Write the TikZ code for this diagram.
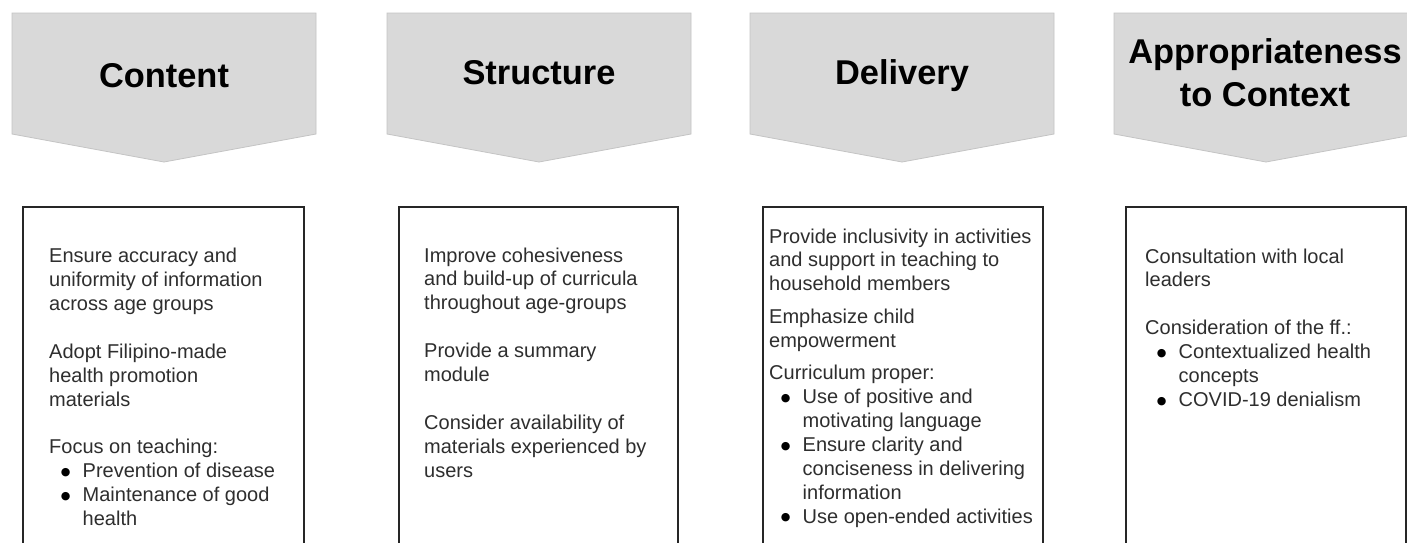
\documentclass[tikz,border=0pt]{standalone}
\usepackage{fontspec}
\setmainfont{Liberation Sans}
\newfontfamily\dotfont{DejaVu Sans}

\definecolor{chevfill}{HTML}{D9D9D9}
\definecolor{chevline}{HTML}{C4C4C4}
\definecolor{bodytext}{HTML}{2E2E2E}

% bullet line: dot centred 16.5pt in, item text 33.5pt in
\newcommand\bulletdot{\makebox[0pt][c]{\raisebox{2.4pt}{\color{black}\fontsize{11}{11}\dotfont ●}}}
\newcommand\bulletline[1]{\makebox[33.5pt][l]{\hspace{16.5pt}\bulletdot}#1}
\newcommand\contline[1]{\hspace*{33.5pt}#1}

\tikzset{
  chevron/.style={fill=chevfill, draw=chevline, line width=0.8pt, line join=miter},
  panel/.style={draw=black!85, line width=1.3pt},
  title/.style={anchor=base, inner sep=0pt, text=black,
    font=\fontsize{34.4}{43}\selectfont\bfseries},
  body/.style={anchor=base west, inner sep=0pt, text=bodytext,
    font=\fontsize{20}{23.9}\selectfont},
}

% chevron pointing down: left x, right x
\newcommand\chev[2]{%
  \path[chevron] (#1,13) -- (#2,13) -- (#2,134) -- ({(#1+#2)/2},162) -- (#1,134) -- cycle;}

\begin{document}
\begin{tikzpicture}[x=1pt, y=-1pt]
  \useasboundingbox (0,0) rectangle (1407,542);
  \clip (0,0) rectangle (1407,542);
  \fill[white] (0,0) rectangle (1407,542);

  % header chevrons
  \chev{12}{316}
  \chev{387}{691}
  \chev{750}{1054}
  \chev{1114}{1418}

  \node[title] (h1) at (164,87) {Content};
  \node[title] (h2) at (539,84) {Structure};
  \node[title] (h3) at (902,84) {Delivery};
  \node[title] (h4) at (1265,63.3) {\begin{minipage}[t]{310pt}\centering
      Appropriateness\\to Context\end{minipage}};

  % panels (they run past the lower edge)
  \draw[panel] (23,207) rectangle (304,580);
  \draw[panel] (399,207) rectangle (678,580);
  \draw[panel] (763,207) rectangle (1043,580);
  \draw[panel] (1126,207) rectangle (1406,580);

  \node[body] (t1) at (49,262.7) {\begin{minipage}[t]{250pt}\raggedright
    Ensure accuracy and\\
    uniformity of information\\
    across age groups\\[23.9pt]
    Adopt Filipino-made\\
    health promotion\\
    materials\\[23.9pt]
    Focus on teaching:\\
    \bulletline{Prevention of disease}\\
    \bulletline{Maintenance of good}\\
    \contline{health}
  \end{minipage}};

  \node[body] (t2) at (424,262) {\begin{minipage}[t]{250pt}\raggedright
    Improve cohesiveness\\
    and build-up of curricula\\
    throughout age-groups\\[23.9pt]
    Provide a summary\\
    module\\[23.9pt]
    Consider availability of\\
    materials experienced by\\
    users
  \end{minipage}};

  \node[body] (t3) at (769,243) {\begin{minipage}[t]{272pt}\raggedright
    Provide inclusivity in activities\\
    and support in teaching to\\
    household members\\[8.6pt]
    Emphasize child\\
    empowerment\\[8.6pt]
    Curriculum proper:\\
    \bulletline{Use of positive and}\\
    \contline{motivating language}\\
    \bulletline{Ensure clarity and}\\
    \contline{conciseness in delivering}\\
    \contline{information}\\
    \bulletline{Use open-ended activities}
  \end{minipage}};

  \node[body] (t4) at (1145,263) {\begin{minipage}[t]{250pt}\raggedright
    Consultation with local\\
    leaders\\[23.9pt]
    Consideration of the ff.:\\
    \bulletline{Contextualized health}\\
    \contline{concepts}\\
    \bulletline{COVID-19 denialism}
  \end{minipage}};
\end{tikzpicture}
\end{document}
